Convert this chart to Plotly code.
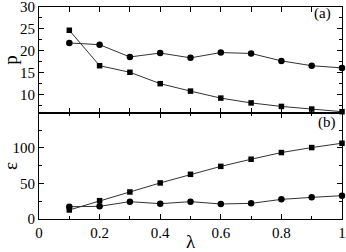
import plotly.graph_objects as go

lam = [0.1, 0.2, 0.3, 0.4, 0.5, 0.6, 0.7, 0.8, 0.9, 1.0]
p_circle = [21.8, 21.4, 18.6, 19.5, 18.4, 19.6, 19.4, 17.7, 16.6, 16.1]
p_square = [24.7, 16.6, 15.1, 12.5, 10.8, 9.2, 8.1, 7.3, 6.7, 6.1]
eps_square = [12.7, 25.8, 38.0, 50.7, 62.8, 74.0, 84.0, 93.4, 100.4, 106.5]
eps_circle = [17.3, 17.8, 24.4, 21.5, 24.4, 21.1, 22.0, 27.6, 30.4, 32.8]

FONT = "Liberation Serif"
line = dict(color="#333", width=1)
circ = dict(symbol="circle", size=6.5, color="black")
sq = dict(symbol="square", size=5.5, color="black")

fig = go.Figure()
fig.add_trace(go.Scatter(x=lam, y=p_circle, xaxis="x2", yaxis="y2", mode="lines+markers",
                         line=line, marker=circ, cliponaxis=False))
fig.add_trace(go.Scatter(x=lam, y=p_square, xaxis="x2", yaxis="y2", mode="lines+markers",
                         line=line, marker=sq, cliponaxis=False))
fig.add_trace(go.Scatter(x=lam, y=eps_square, xaxis="x", yaxis="y", mode="lines+markers",
                         line=line, marker=sq, cliponaxis=False))
fig.add_trace(go.Scatter(x=lam, y=eps_circle, xaxis="x", yaxis="y", mode="lines+markers",
                         line=line, marker=circ, cliponaxis=False))

axcommon = dict(showline=True, linecolor="black", linewidth=1, mirror="allticks", automargin=False,
                ticks="inside", ticklen=5, tickcolor="black", showgrid=False, zeroline=False,
                ticklabeloverflow="allow",
                tickfont=dict(family=FONT, size=15, color="black"))

fig.update_layout(
    width=346, height=252, showlegend=False,
    paper_bgcolor="white", plot_bgcolor="white",
    margin=dict(l=39, r=4, t=7, b=33),
    xaxis=dict(**axcommon, domain=[0, 1], anchor="y", range=[0, 1], dtick=0.2, tick0=0,
               minor=dict(dtick=0.1, ticklen=3, ticks="inside", tickcolor="black"),
               title=dict(text="λ", font=dict(family=FONT, size=19, color="black"), standoff=2)),
    yaxis=dict(**axcommon, domain=[0, 0.5], anchor="x", range=[0, 149], dtick=50, tick0=0,
               minor=dict(dtick=25, ticklen=3, ticks="inside", tickcolor="black"),
               title=dict(text="ε", font=dict(family=FONT, size=19, color="black"), standoff=4)),
    xaxis2=dict(**axcommon, domain=[0, 1], anchor="y2", range=[0, 1], dtick=0.1, tick0=0,
                showticklabels=False, matches="x"),
    yaxis2=dict(**axcommon, domain=[0.5, 1], anchor="x2", range=[5.8, 30.01], dtick=5, tick0=0,
                tickvals=[10, 15, 20, 25, 30],
                minor=dict(tickvals=[7.5, 12.5, 17.5, 22.5, 27.5], ticklen=3, ticks="inside", tickcolor="black"),
                title=dict(text="p", font=dict(family=FONT, size=19, color="black"), standoff=4)),
    annotations=[
        dict(text="(a)", x=0.937, y=0.967, xref="paper", yref="paper", showarrow=False,
             xanchor="center", yanchor="middle",
             font=dict(family=FONT, size=15, color="black")),
        dict(text="(b)", x=0.95, y=0.455, xref="paper", yref="paper", showarrow=False,
             xanchor="center", yanchor="middle",
             font=dict(family=FONT, size=15, color="black")),
    ],
)

fig.write_html("out.html", config={"displayModeBar": False},
               post_script="document.body.style.margin='0px';document.body.style.overflow='hidden';")
